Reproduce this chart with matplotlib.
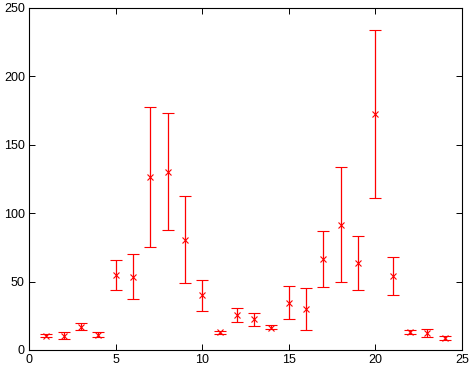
import numpy as np
import matplotlib.pyplot as plt

x = np.arange(1, 25)
mean = [10.5, 10.5, 17.0, 11.0, 54.6, 53.1, 126.2, 129.9, 80.2, 40.0, 12.9, 25.4,
        22.4, 16.3, 34.0, 29.7, 66.3, 91.4, 63.4, 172.3, 53.9, 12.9, 12.2, 8.8]
low = [9.2, 8.0, 14.4, 9.2, 43.6, 37.0, 75.0, 87.5, 48.7, 28.3, 12.0, 20.2,
       17.3, 15.4, 22.4, 14.3, 45.8, 49.5, 43.6, 110.9, 40.0, 11.5, 9.7, 7.5]
high = [11.9, 12.9, 19.5, 12.9, 65.5, 70.2, 177.4, 173.0, 112.3, 50.9, 13.8, 30.4,
        26.8, 18.0, 46.5, 45.0, 86.7, 133.5, 83.1, 233.7, 67.7, 14.4, 15.1, 10.0]

mean = np.array(mean)
yerr = [mean - np.array(low), np.array(high) - mean]

plt.rcParams['font.family'] = ['Liberation Sans', 'DejaVu Sans']
fig = plt.figure(figsize=(4.73, 3.71), dpi=100)
ax = fig.add_axes([29/473, 21/371, 433/473, 342/371])

ax.errorbar(x, mean, yerr=yerr, fmt='x', color='red', ecolor='red',
            markersize=4, mew=0.8, elinewidth=0.9, capsize=4.3, capthick=0.9)

ax.set_xlim(0, 25)
ax.set_ylim(0, 250)
ax.set_xticks(range(0, 26, 5))
ax.set_yticks(range(0, 251, 50))
ax.tick_params(direction='in', length=4, width=0.7, top=True, right=True,
               labelsize=9, pad=3)
for s in ax.spines.values():
    s.set_linewidth(0.8)

fig.savefig('out.png', dpi=100)
